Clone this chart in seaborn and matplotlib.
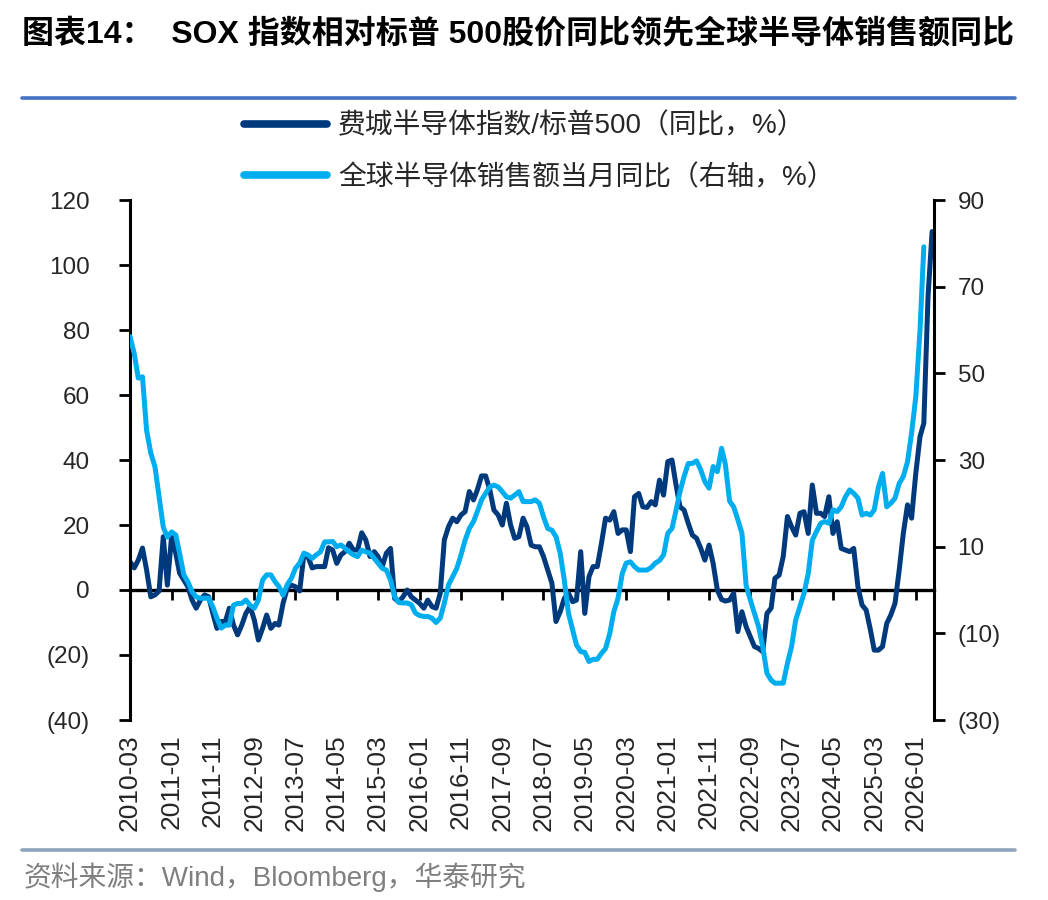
import numpy as np
import pandas as pd
import matplotlib
matplotlib.use("Agg")
import matplotlib.pyplot as plt
import matplotlib.dates as mdates
from matplotlib.lines import Line2D
from matplotlib.ticker import FuncFormatter
import seaborn as sns

sns.set_theme(style="white")
plt.rcParams["font.family"] = ["Liberation Sans", "Noto Sans CJK SC", "DejaVu Sans"]

# ---------------- data (monthly, starting 2010-03) ----------------
start_month = "2010-03-01"

sox_vs_spx_yoy = [
    8.7, 6.8, 9.2, 12.9, 6.2, -2.1, -1.5, -0.3, 16.4, 1.5,
    16.4, 11.3, 5.2, 3.1, 1.0, -3.1, -5.6, -3.1, -1.5, -2.1,
    -7.2, -11.8, -9.7, -9.7, -5.6, -10.8, -13.8, -10.8, -7.2, -5.1,
    -9.2, -15.4, -11.8, -7.7, -11.8, -10.3, -10.8, -4.1, 0.5, 1.5,
    1.0, -0.3, 10.8, 10.3, 6.8, 7.2, 7.2, 7.2, 13.0, 12.3,
    8.2, 10.8, 11.8, 14.4, 12.3, 12.3, 17.6, 15.4, 10.3, 11.8,
    10.3, 7.2, 11.3, 12.8, -2.6, -3.6, -2.1, 0.0, -2.1, -3.1,
    -4.1, -5.6, -3.1, -5.1, -5.6, -1.0, 15.4, 19.5, 22.1, 21.0,
    23.1, 24.1, 30.3, 27.7, 30.8, 35.1, 35.1, 30.8, 24.6, 23.1,
    20.0, 26.7, 20.0, 15.9, 16.4, 22.1, 19.5, 13.8, 13.3, 13.3,
    10.3, 6.2, 2.1, -9.7, -6.7, -2.6, -1.0, -3.6, -3.1, 11.8,
    -7.2, 4.1, 7.2, 7.2, 14.4, 22.1, 21.5, 24.1, 17.4, 18.5,
    18.5, 11.8, 28.7, 29.7, 25.6, 25.4, 27.2, 26.2, 33.8, 29.2,
    39.5, 40.0, 32.8, 25.6, 24.6, 20.5, 16.9, 15.9, 12.8, 9.2,
    13.8, 8.2, 0.0, -2.9, -3.4, -3.1, -1.0, -12.8, -6.7, -11.3,
    -14.4, -17.4, -18.0, -19.0, -7.2, -5.6, 3.6, 4.6, 10.3, 22.6,
    19.5, 16.9, 23.6, 24.1, 17.4, 32.3, 23.6, 23.6, 22.6, 28.7,
    17.4, 21.0, 12.8, 12.3, 11.8, 12.8, 1.0, -4.6, -6.2, -12.3,
    -18.5, -18.5, -17.4, -10.3, -7.7, -4.1, 6.2, 17.4, 26.2, 22.1,
    35.9, 47.2, 51.3, 90.3, 110.3,
]

chip_sales_yoy = [
    58.5, 54.6, 48.9, 49.2, 36.9, 31.6, 28.4, 21.5, 14.5, 12.2,
    13.4, 12.7, 8.5, 3.5, 1.9, -0.4, -1.6, -1.9, -1.9, -1.9,
    -3.9, -6.5, -8.8, -8.1, -8.1, -3.5, -3.1, -3.1, -2.3, -3.5,
    -4.2, -2.3, 2.3, 3.5, 3.5, 1.9, 0.8, -1.2, 1.2, 2.7,
    5.0, 6.2, 8.5, 8.1, 7.3, 8.1, 8.8, 11.1, 11.1, 11.2,
    10.0, 10.4, 9.6, 8.8, 8.1, 7.7, 9.2, 8.8, 8.5, 7.3,
    6.2, 5.0, 4.6, 2.3, -1.5, -2.9, -3.0, -3.0, -3.4, -5.3,
    -5.9, -6.1, -6.1, -6.5, -7.5, -6.5, -3.0, 1.2, 3.1, 5.0,
    8.1, 11.5, 14.2, 15.8, 18.1, 20.8, 22.3, 23.8, 24.2, 23.8,
    22.7, 21.5, 21.2, 21.9, 22.7, 20.4, 20.4, 20.4, 20.8, 20.0,
    16.9, 14.2, 13.8, 12.3, 8.5, 2.3, -5.4, -9.2, -12.7, -14.2,
    -14.4, -16.5, -16.0, -16.0, -14.6, -13.5, -10.0, -5.0, -1.9, 3.8,
    6.2, 6.5, 5.4, 4.6, 4.6, 4.6, 5.2, 6.2, 6.8, 8.1,
    13.1, 14.2, 18.1, 22.7, 26.2, 29.2, 29.2, 29.8, 27.7, 25.0,
    23.5, 28.5, 27.3, 32.7, 29.0, 20.5, 19.2, 16.2, 13.1, 1.0,
    -2.3, -5.4, -8.5, -13.1, -19.2, -20.8, -21.5, -21.5, -21.5, -16.9,
    -13.1, -6.9, -3.8, -0.8, 3.8, 11.5, 13.5, 15.4, 15.8, 15.4,
    18.5, 18.1, 19.2, 21.5, 23.1, 22.3, 21.2, 17.3, 17.7, 17.3,
    18.5, 23.8, 26.9, 19.2, 20.0, 21.2, 24.6, 26.2, 29.6, 36.2,
    44.6, 60.0, 79.2,
]

label_sox = "费城半导体指数/标普500（同比，%）"
label_sales = "全球半导体销售额当月同比（右轴，%）"
left_ticks = [-40, -20, 0, 20, 40, 60, 80, 100, 120]
right_ticks = [-30, -10, 10, 30, 50, 70, 90]
tick_every_months = 10

title_text = "图表14：  SOX 指数相对标普 500股价同比领先全球半导体销售额同比"
source_text = "资料来源：Wind，Bloomberg，华泰研究"

# ---------------- frames ----------------
df_sox = pd.DataFrame({
    "date": pd.date_range(start_month, periods=len(sox_vs_spx_yoy), freq="MS"),
    "value": sox_vs_spx_yoy,
})
df_sales = pd.DataFrame({
    "date": pd.date_range(start_month, periods=len(chip_sales_yoy), freq="MS"),
    "value": chip_sales_yoy,
})

DARK = "#003A7D"
LIGHT = "#00AEEF"

fig = plt.figure(figsize=(10.48, 9.0), dpi=100)
ax = fig.add_axes([130 / 1048, 1 - 720 / 900, (934 - 130) / 1048, (720 - 200) / 900])
ax2 = ax.twinx()

sns.lineplot(data=df_sox, x="date", y="value", ax=ax, color=DARK,
             linewidth=3.6, legend=False)
sns.lineplot(data=df_sales, x="date", y="value", ax=ax2, color=LIGHT,
             linewidth=3.6, legend=False)

# x axis
tick_dates = list(df_sox["date"].iloc[::tick_every_months])
ax.set_xlim(df_sox["date"].iloc[0], df_sox["date"].iloc[-1] + pd.Timedelta(days=14))
ax.set_xticks(tick_dates)
ax.set_xticklabels([d.strftime("%Y-%m") for d in tick_dates], rotation=90,
                   fontsize=19)
ax.tick_params(axis="x", length=0, pad=10)
ax.set_xlabel("")
ax2.set_xlabel("")

# y axes
fmt = FuncFormatter(lambda v, p: f"({abs(int(round(v)))})" if v < 0 else f"{int(round(v))}")
ax.set_ylim(-40, 120)
ax.set_yticks(left_ticks)
ax.yaxis.set_major_formatter(fmt)
ax.set_ylabel("")
ax2.set_ylim(-30, 90)
ax2.set_yticks(right_ticks)
ax2.yaxis.set_major_formatter(fmt)
ax2.set_ylabel("")

ax.tick_params(axis="y", which="major", left=True, length=8, width=2,
               direction="out", color="black", labelsize=17.5, pad=21)
ax2.tick_params(axis="y", which="major", right=True, length=8, width=2,
                direction="out", color="black", labelsize=17.5, pad=9)

for a in (ax, ax2):
    a.grid(False)
    a.spines["top"].set_visible(False)
    a.spines["bottom"].set_visible(False)
    a.set_facecolor("none")
ax.spines["right"].set_visible(False)
ax.spines["left"].set_linewidth(2.2)
ax.spines["left"].set_color("black")
ax2.spines["left"].set_visible(False)
ax2.spines["right"].set_linewidth(2.2)
ax2.spines["right"].set_color("black")

# zero line with tick marks (secondary x axis at y = 0)
zero_frac = (0 - (-40)) / (120 - (-40))
sec = ax.secondary_xaxis(zero_frac)
sec.set_xticks([mdates.date2num(d) for d in tick_dates])
sec.tick_params(axis="x", labelbottom=False, labeltop=False, length=7,
                width=2, direction="out", color="black")
for s in sec.spines.values():
    s.set_linewidth(2.4)
    s.set_color("black")

# legend
handles = [Line2D([0], [0], color=DARK, lw=5.5, solid_capstyle="round"),
           Line2D([0], [0], color=LIGHT, lw=5.5, solid_capstyle="round"),]
fig.legend(handles, [label_sox, label_sales], loc="upper left",
           bbox_to_anchor=(244 / 1048, 1 - 113 / 900), frameon=False,
           fontsize=20, handlelength=3.0, handletextpad=0.38, labelspacing=0.9,
           borderaxespad=0, borderpad=0)

# title, rules, source
fig.text(22 / 1048, 1 - 35 / 900, title_text, fontsize=23, fontweight="bold",
         ha="left", va="center", color="black")
fig.add_artist(Line2D([22 / 1048, 1015 / 1048], [1 - 98 / 900] * 2,
                      color="#4472C4", lw=2.6))
fig.add_artist(Line2D([22 / 1048, 1015 / 1048], [1 - 850 / 900] * 2,
                      color="#8EA4BE", lw=2.6))
fig.text(24 / 1048, 1 - 877 / 900, source_text, fontsize=20, ha="left",
         va="center", color="#7F7F7F")

fig.savefig("out.png", dpi=100)
